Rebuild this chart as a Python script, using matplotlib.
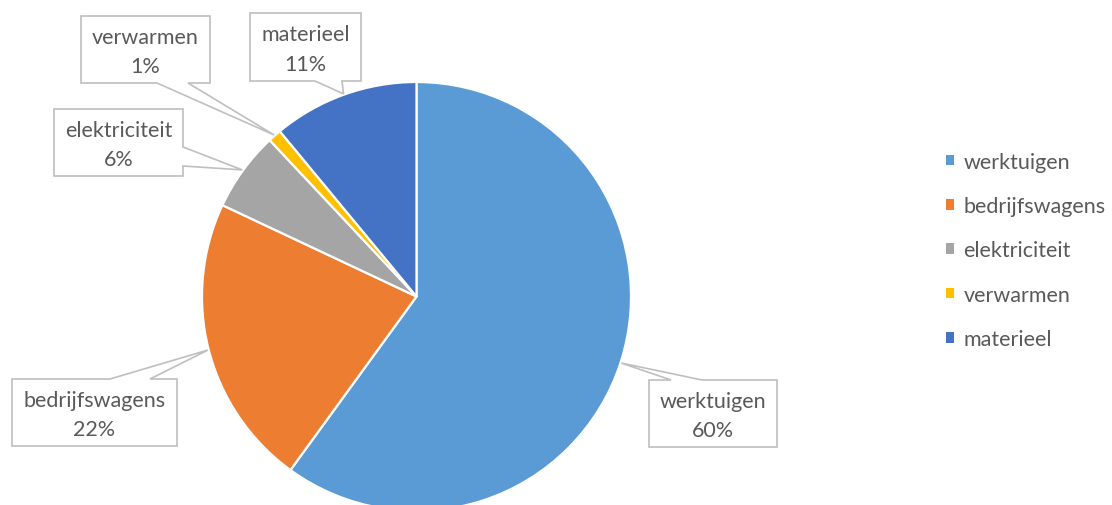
import numpy as np
import matplotlib
matplotlib.use("Agg")
import matplotlib.pyplot as plt
from matplotlib.patches import Polygon

categories = ["werktuigen", "bedrijfswagens", "elektriciteit", "verwarmen", "materieel"]
values = [60, 22, 6, 1, 11]
pct_labels = ["60%", "22%", "6%", "1%", "11%"]
colors = ["#5B9BD5", "#ED7D31", "#A5A5A5", "#FFC000", "#4472C4"]

W, H = 1112, 506
FONT = ["Lato", "DejaVu Sans"]
TXT = "#595959"
EDGE = "#BFBFBF"
FS = 15.5

# label boxes in pixel coords (left, top, right, bottom), callout side and base
boxes = {
    "werktuigen": ((649, 381, 777, 448), "top", (671, 702)),
    "bedrijfswagens": ((12, 380, 177, 447), "top", (110, 150)),
    "elektriciteit": ((54, 110, 183, 177), "right", (148, 167)),
    "verwarmen": ((81, 17, 210, 84), "bottom", (157, 188)),
    "materieel": ((250, 14, 361, 82), "bottom", (315, 342)),
}

fig = plt.figure(figsize=(W / 100, H / 100), dpi=100)
ax = fig.add_axes([0, 0, 1, 1])

cx, cy, R = 416.5, H - 297.5, 214.5
wedges, _ = ax.pie(values, colors=colors, startangle=90, counterclock=False,
                   center=(cx, cy), radius=R,
                   wedgeprops=dict(edgecolor="white", linewidth=1.6))
ax.set_xlim(0, W)
ax.set_ylim(0, H)
ax.set_aspect("equal")
ax.axis("off")

for w, cat, pct in zip(wedges, categories, pct_labels):
    mid = np.deg2rad((w.theta1 + w.theta2) / 2)
    tx = cx + R * 1.004 * np.cos(mid)
    ty = cy + R * 1.004 * np.sin(mid)
    (l, t, r, b), side, (s0, s1) = boxes[cat]
    t, b = H - t, H - b
    if side == "top":
        pts = [(l, b), (l, t), (s0, t), (tx, ty), (s1, t), (r, t), (r, b)]
    elif side == "bottom":
        pts = [(l, t), (r, t), (r, b), (s1, b), (tx, ty), (s0, b), (l, b)]
    else:  # right
        s0p, s1p = H - s0, H - s1
        pts = [(l, t), (r, t), (r, s0p), (tx, ty), (r, s1p), (r, b), (l, b)]
    ax.add_patch(Polygon(pts, closed=True, facecolor="white", edgecolor=EDGE,
                         linewidth=1.2, zorder=5))
    ax.text((l + r) / 2, (t + b) / 2 - 2, f"{cat}\n{pct}", ha="center", va="center",
            fontsize=FS, color=TXT, family=FONT, linespacing=1.6, zorder=6)

leg = ax.legend(wedges, categories, loc="upper left",
                bbox_to_anchor=(937 / W, 1 - 144 / H), frameon=False,
                prop=dict(family=FONT, size=FS), labelcolor=TXT,
                handlelength=0.38, handleheight=0.38, handletextpad=0.45,
                labelspacing=1.13, borderaxespad=0)
for h in leg.legend_handles:
    h.set_edgecolor("none")

fig.savefig("out.png", dpi=100)
